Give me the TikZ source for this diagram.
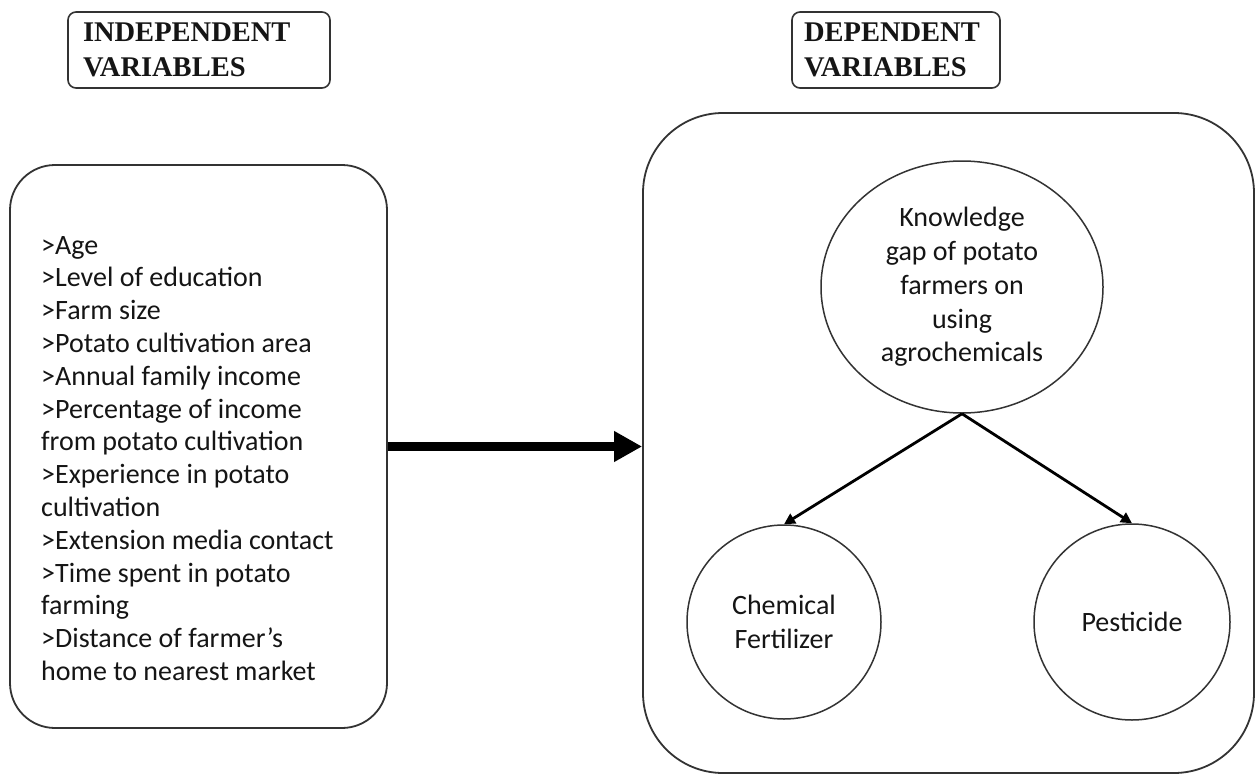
\documentclass[tikz,border=0pt]{standalone}
\usepackage{fontspec}
\setmainfont{Carlito}
\newfontfamily\hdrfont{Liberation Serif}
\usetikzlibrary{arrows.meta,shapes.geometric}
\definecolor{linegray}{HTML}{333333}
\definecolor{ink}{HTML}{151515}
\begin{document}
\begin{tikzpicture}[x=1pt,y=-1pt,
  hdrbox/.style={draw=linegray, line width=1.6pt, rounded corners=8pt, inner xsep=0pt, inner ysep=0pt, minimum height=76pt, align=left, text=ink,
    font=\hdrfont\bfseries\fontsize{28.5}{35}\selectfont},
  bigbox/.style={draw=linegray, line width=1.8pt, inner sep=0pt},
  bodytext/.style={text=ink, font=\fontsize{28}{32.8}\selectfont, inner sep=0pt},
  bubble/.style={draw=linegray, line width=1.5pt, inner sep=0pt, align=center, text=ink, font=\fontsize{28}{33.7}\selectfont},
  bigarrow/.style={draw=black, line width=9pt, -{Triangle[length=28pt,width=29pt]}},
  thinarrow/.style={draw=black, line width=2.8pt, -{Triangle[length=11pt,width=11pt]}}
]
\useasboundingbox (0,0) rectangle (1256,776);
\fill[white] (0,0) rectangle (1256,776);

% headers
\node[hdrbox, minimum width=262pt, text width=232pt] (ivh) at (199,50) {INDEPENDENT\\VARIABLES};
\node[hdrbox, minimum width=208pt, text width=184pt] (dvh) at (896,50) {DEPENDENT\\VARIABLES};

% left box
\node[bigbox, rounded corners=45pt, minimum width=377pt, minimum height=563pt] (ivbox) at (198.5,446.5) {};
\node[bodytext, anchor=north west, align=left] (ivlist) at (41,236) {%
>Age\\
>Level of education\\
>Farm size\\
>Potato cultivation area\\
>Annual family income\\
>Percentage of income\\
from potato cultivation\\
>Experience in potato\\
cultivation\\
>Extension media contact\\
>Time spent in potato\\
farming\\
>Distance of farmer’s\\
home to nearest market};

% right box
\node[bigbox, rounded corners=80pt, minimum width=611pt, minimum height=660pt] (dvbox) at (948.5,443) {};

% big arrow
\draw[bigarrow] (ivbox.east) -- (ivbox.east -| dvbox.west);

% bubbles
\node[bubble, ellipse, minimum width=282pt, minimum height=252pt] (kg) at (962,287)
  {Knowledge\\gap of potato\\farmers on\\using\\agrochemicals};
\node[bubble, circle, minimum size=194pt] (cf) at (784,622) {Chemical\\Fertilizer};
\node[bubble, circle, minimum size=196pt] (pest) at (1132,622) {Pesticide};

\draw[thinarrow] (kg.south) -- (cf.north);
\draw[thinarrow] (kg.south) -- (pest.north);
\end{tikzpicture}
\end{document}
